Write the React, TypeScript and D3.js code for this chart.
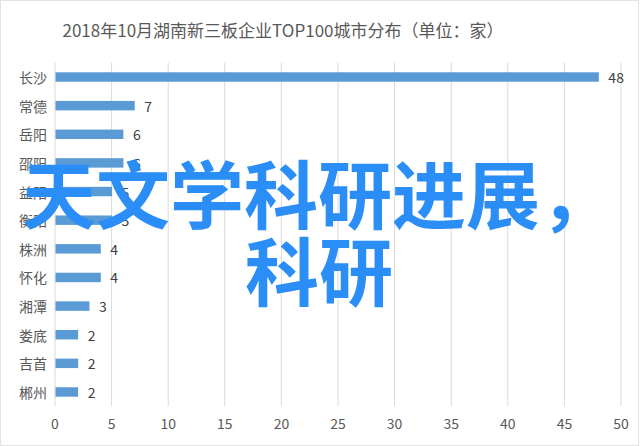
import React from "react";
import * as d3 from "d3";

const title = "2018年10月湖南新三板企业TOP100城市分布（单位：家）";
const cities = ["长沙", "常德", "岳阳", "邵阳", "益阳", "衡阳", "株洲", "怀化", "湘潭", "娄底", "吉首", "郴州"];
const counts = [48, 7, 6, 6, 5, 5, 4, 4, 3, 2, 2, 2];
const xTicks = [0, 5, 10, 15, 20, 25, 30, 35, 40, 45, 50];
const overlayLine1 = "天文学科研进展，";
const overlayLine2 = "科研";

const W = 640;
const H = 446;
const FONT = "'Noto Sans CJK SC', 'Noto Sans', sans-serif";

export default function App() {
  const x = d3.scaleLinear().domain([0, 50]).range([55, 621]);
  const y = d3
    .scaleBand<string>()
    .domain(cities)
    .range([62.7, 406.3])
    .paddingInner(0.67)
    .paddingOuter(0.335);
  const [y0, y1] = y.range();

  return (
    <div style={{ position: "fixed", left: 0, top: 0, width: W, height: H, background: "#fff" }}>
      <svg width={W} height={H} style={{ display: "block", fontFamily: FONT }}>
        <rect x={0} y={0} width={W} height={H} fill="#fff" />
        <rect x={0.5} y={0.5} width={W - 2} height={H - 1} fill="none" stroke="#e3e3e3" />
        <text x={283} y={37} textAnchor="middle" fontSize={17} fill="#595959">
          {title}
        </text>
        {xTicks.map((t) => (
          <g key={t}>
            <line x1={x(t)} x2={x(t)} y1={y0} y2={y1} stroke="#d9d9d9" strokeWidth={1} />
            <text x={x(t)} y={429} textAnchor="middle" fontSize={14} fill="#595959">
              {t}
            </text>
          </g>
        ))}
        {cities.map((c, i) => {
          const by = y(c)!;
          const bh = y.bandwidth();
          return (
            <g key={c}>
              <rect x={x(0) + 0.5} y={by} width={x(counts[i]) - x(0)} height={bh} fill="#5B9BD5" />
              <text
                x={47}
                y={by + bh / 2}
                dominantBaseline="central"
                textAnchor="end"
                fontSize={14}
                fill="#595959"
              >
                {c}
              </text>
              <text
                x={x(counts[i]) + 10}
                y={by + bh / 2}
                dominantBaseline="central"
                fontSize={14}
                fill="#404040"
              >
                {counts[i]}
              </text>
            </g>
          );
        })}
        <text x={22} y={223} fontSize={74} fontWeight={700} fill="#2B8DF6">
          {overlayLine1}
        </text>
        <text x={245} y={300} fontSize={74} fontWeight={700} fill="#2B8DF6">
          {overlayLine2}
        </text>
      </svg>
    </div>
  );
}
